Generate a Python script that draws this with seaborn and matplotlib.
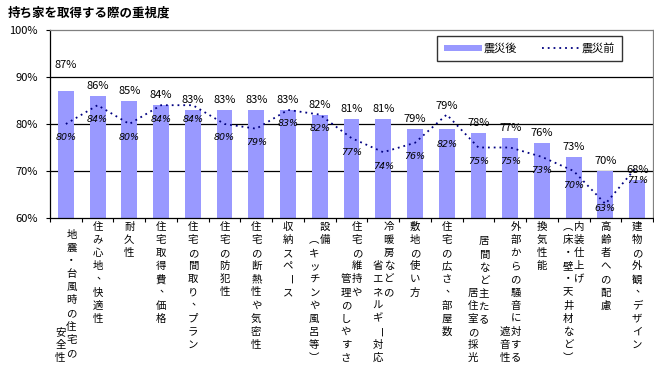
import matplotlib
matplotlib.use("Agg")
import matplotlib.pyplot as plt
from matplotlib.patches import Patch
from matplotlib.lines import Line2D
import seaborn as sns
import pandas as pd
import numpy as np

# ---------------- data ----------------
categories = [
    "地震・台風時の住宅の\n安全性",
    "住み心地、快適性",
    "耐久性",
    "住宅取得費、価格",
    "住宅の間取り、プラン",
    "住宅の防犯性",
    "住宅の断熱性や気密性",
    "収納スペース",
    "設備\n（キッチンや風呂等）",
    "住宅の維持や\n管理のしやすさ",
    "冷暖房などの\n省エネルギー対応",
    "敷地の使い方",
    "住宅の広さ、部屋数",
    "居間など主たる\n居住室の採光",
    "外部からの騒音に対する\n遮音性",
    "換気性能",
    "内装仕上げ\n（床・壁・天井材など）",
    "高齢者への配慮",
    "建物の外観、デザイン",
]
after_quake = [87, 86, 85, 84, 83, 83, 83, 83, 82, 81, 81, 79, 79, 78, 77, 76, 73, 70, 68]
before_quake = [80, 84, 80, 84, 84, 80, 79, 83, 82, 77, 74, 76, 82, 75, 75, 73, 70, 63, 71]
series_names = ["震災後", "震災前"]
title = "持ち家を取得する際の重視度"
y_ticks = [60, 70, 80, 90, 100]

# ---------------- layout (not data) ----------------
bar_label_off = {0: 26, 12: 23}      # px above bar top (default 10)
line_label_off = {12: -30, 17: -5}   # px relative to point (default -14)
first_col_start = {0: 0.6, 13: 1.1}  # row offset of first (right) column
ROW = 13.1                            # px between stacked characters
TOP = 9                               # px below axis for first row
BOTTOM_ROW = 10                       # last row index used by wrapped columns
vertical_forms = {"（": "︵", "）": "︶"}

plt.rcParams["font.family"] = ["Noto Sans CJK JP", "DejaVu Sans"]

fig = plt.figure(figsize=(6.54, 3.72), dpi=100)
W, H = 654, 372
ax = fig.add_axes([50 / W, 1 - 218 / H, 603 / W, 188 / H])

df = pd.DataFrame({"cat": categories, "val": after_quake})
sns.barplot(data=df, x="cat", y="val", ax=ax, color="#9999FF", saturation=1,
            width=0.5, order=categories)
xpos = np.arange(len(categories))
sns.lineplot(x=xpos, y=before_quake, ax=ax, color="#000080",
             linestyle=(0, (1, 2.2)), linewidth=1.3)

ax.set_xlim(-0.5, len(categories) - 0.5)
ax.set_ylim(60, 100)
ax.set_yticks(y_ticks)
ax.set_yticklabels([f"{v}%" for v in y_ticks], fontsize=8)
ax.set_xlabel("")
ax.set_ylabel("")
ax.grid(False)
for v in y_ticks[1:-1]:
    ax.axhline(v, color="black", linewidth=0.9, zorder=0.5)

ax.set_xticks(np.arange(len(categories) + 1) - 0.5)
ax.set_xticklabels([])
ax.tick_params(axis="x", length=3, width=0.8, color="black", direction="out")
ax.tick_params(axis="y", length=3, width=0.8, color="black", pad=6)

for s in ["left", "bottom"]:
    ax.spines[s].set_color("black")
    ax.spines[s].set_linewidth(0.9)
for s in ["top", "right"]:
    ax.spines[s].set_color("#808080")
    ax.spines[s].set_linewidth(0.9)

# bar value labels
for i, v in enumerate(after_quake):
    ax.annotate(f"{v}%", xy=(i, v), xytext=(0, bar_label_off.get(i, 10)),
                textcoords="offset pixels", ha="center", va="center",
                fontsize=8, annotation_clip=False)

# line value labels
for i, v in enumerate(before_quake):
    ax.annotate(f"{v}%", xy=(i, v), xytext=(0, line_label_off.get(i, -14)),
                textcoords="offset pixels", ha="center", va="center",
                fontsize=6.8, family="DejaVu Sans", style="italic",
                color="black", annotation_clip=False)

# vertical category labels
for i, lab in enumerate(categories):
    cols = lab.split("\n")
    n = len(cols)
    for j, col in enumerate(cols):
        if n == 1:
            dx = 0
        else:
            dx = 5.5 if j == 0 else -5.5
        if j == 0:
            start = first_col_start.get(i, 0)
        else:
            start = BOTTOM_ROW - len(col) + 1
        for k, ch in enumerate(col):
            r = start + k
            ox, oy = dx, -(TOP + ROW * r)
            rot = 0
            ch = vertical_forms.get(ch, ch)
            if ch == "ー":
                rot = -90
            if ch == "、":
                ox += 4
                oy += 4
            ax.annotate(ch, xy=(i, 0), xycoords=("data", "axes fraction"),
                        xytext=(ox, oy), textcoords="offset pixels",
                        ha="center", va="center", fontsize=7.5, rotation=rot,
                        annotation_clip=False)

# title
fig.text(8 / W, 1 - 13 / H, title, fontsize=9, fontweight="bold",
         ha="left", va="center")

# legend
handles = [Patch(facecolor="#9999FF", edgecolor="none"),
           Line2D([0], [0], color="#000080", linestyle=(0, (1, 2.2)), linewidth=1.3)]
leg = fig.legend(handles, series_names, loc="center",
                 bbox_to_anchor=((435 + 624) / 2 / W, 1 - (35 + 62) / 2 / H),
                 ncol=2, fontsize=8, frameon=True, fancybox=False,
                 edgecolor="black", handlelength=3.4, handleheight=0.55,
                 handletextpad=0.2, columnspacing=2.2, borderpad=0.6)
leg.get_frame().set_linewidth(1.0)

fig.savefig("out.png", dpi=100)
